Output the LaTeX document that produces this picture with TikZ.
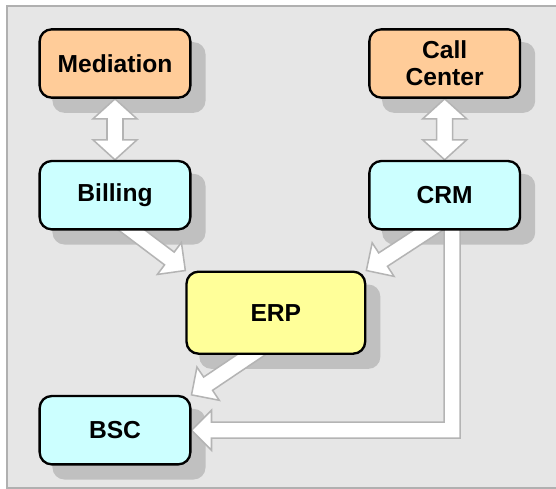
\documentclass[tikz,border=0pt]{standalone}
\usepackage{fontspec}
\setmainfont{Liberation Sans}
\usepackage{tikz}
\usetikzlibrary{positioning, calc}

\definecolor{bggray}{HTML}{E6E6E6}
\definecolor{framegray}{HTML}{B0B0B0}
\definecolor{shadegray}{HTML}{C0C0C0}
\definecolor{arrgray}{HTML}{B4B4B4}
\definecolor{srcfill}{HTML}{FFCC99}
\definecolor{appfill}{HTML}{CCFFFF}
\definecolor{erpfill}{HTML}{FFFF99}

\pgfdeclarelayer{bg}
\pgfdeclarelayer{shade}
\pgfdeclarelayer{arr}
\pgfsetlayers{bg,shade,arr,main}

\newcommand{\fatarrow}[2]{%
  \coordinate (hb) at ($(#2)!0.6cm!(#1)$);
  \draw[fat] ($(#1)!0.24cm!90:(#2)$) -- ($(hb)!0.24cm!90:(#2)$) -- ($(hb)!0.6cm!90:(#2)$) -- (#2)
    -- ($(hb)!0.6cm!-90:(#2)$) -- ($(hb)!0.24cm!-90:(#2)$) -- ($(#1)!0.24cm!-90:(#2)$) -- cycle;}
\newcommand{\fatdarrow}[2]{%
  \coordinate (hba) at ($(#1)!0.6cm!(#2)$);
  \coordinate (hbb) at ($(#2)!0.6cm!(#1)$);
  \draw[fat] (#1) -- ($(hba)!0.66cm!90:(#2)$) -- ($(hba)!0.24cm!90:(#2)$) -- ($(hbb)!0.24cm!90:(#2)$)
    -- ($(hbb)!0.66cm!90:(#2)$) -- (#2) -- ($(hbb)!0.66cm!-90:(#2)$) -- ($(hbb)!0.24cm!-90:(#2)$)
    -- ($(hba)!0.24cm!-90:(#2)$) -- ($(hba)!0.66cm!-90:(#2)$) -- cycle;}

\begin{document}
\begin{tikzpicture}[
  font=\fontsize{21}{23}\selectfont\bfseries,
  box/.style={draw, line width=2pt, rounded corners=0.36cm, align=center, minimum width=4.52cm, minimum height=2.05cm, inner sep=2pt},
  srcbox/.style={box, fill=srcfill},
  appbox/.style={box, fill=appfill},
  erpbox/.style={box, fill=erpfill, minimum width=5.36cm, minimum height=2.46cm},
  shd/.style={fill=shadegray, rounded corners=0.36cm},
  fat/.style={fill=white, draw=arrgray, line width=1.3pt}
]
\useasboundingbox (0,0) rectangle (16.68,-14.67);
\begin{pgfonlayer}{bg}
\draw[fill=bggray, draw=framegray, line width=0.06cm] (0.21,-0.18) rectangle (17,-14.64);
\end{pgfonlayer}

\node[srcbox] (med) at (3.45,-1.905) {Mediation};
\node[appbox, below=1.83cm of med] (bill) {Billing};
\node[srcbox, right=5.3cm of med] (cc) {Call\\Center};
\node[appbox, below=1.83cm of cc] (crm) {CRM};
\node[erpbox, anchor=north] (erp) at ($(bill.south)!0.5!(crm.south)+(-0.12,-1.2)$) {ERP};
\node[appbox, below=4.93cm of bill] (bsc) {BSC};

\begin{pgfonlayer}{shade}
\foreach \n in {med,cc,bill,crm,erp,bsc}
  \fill[shd] ($(\n.south west)+(0.42,-0.42)$) rectangle ($(\n.north east)+(0.42,-0.42)$);
\end{pgfonlayer}

\coordinate (billout) at ($(bill.south)+(0.12,0.3)$);
\coordinate (crmout) at ($(crm.south)+(-0.05,0.3)$);
\coordinate (erpout) at ($(erp.south)+(-0.3,0.3)$);
\coordinate (crmdown) at ($(crm.south)+(0.225,0.3)$);
\coordinate (elb) at (crmdown |- bsc.east);

\begin{pgfonlayer}{arr}
\fatdarrow{med.south}{bill.north}
\fatdarrow{cc.south}{crm.north}
\fatarrow{billout}{erp.north west}
\fatarrow{crmout}{erp.north east}
\fatarrow{erpout}{bsc.north east}
\draw[fat] ($(crmdown)+(-0.24,0)$) -- ($(elb)+(-0.24,0.24)$) -- ($(bsc.east)+(0.6,0.24)$)
  -- ($(bsc.east)+(0.6,0.6)$) -- (bsc.east) -- ($(bsc.east)+(0.6,-0.6)$) -- ($(bsc.east)+(0.6,-0.24)$)
  -- ($(elb)+(0.24,-0.24)$) -- ($(crmdown)+(0.24,0)$) -- cycle;
\end{pgfonlayer}
\end{tikzpicture}
\end{document}
